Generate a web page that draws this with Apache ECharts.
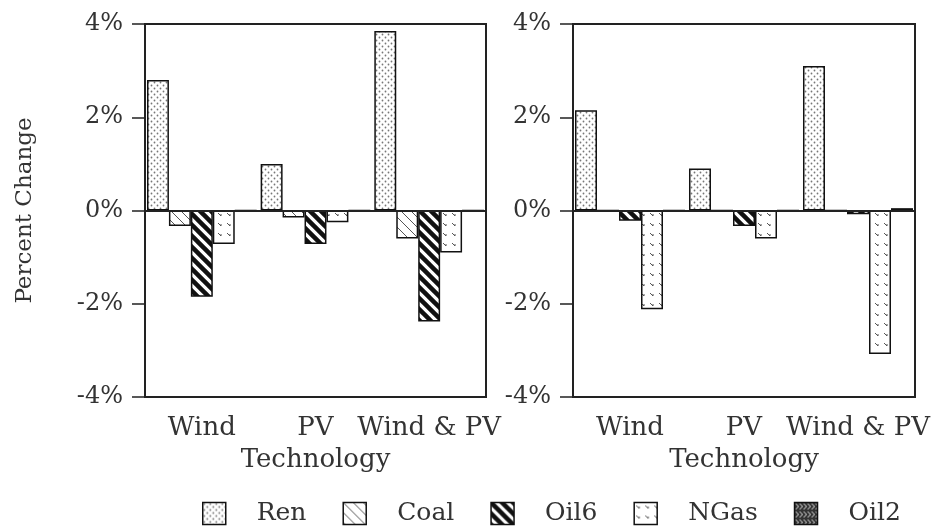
<!DOCTYPE html>
<html>
<head>
<meta charset="utf-8">
<script src="https://cdn.jsdelivr.net/npm/echarts@6/dist/echarts.min.js"></script>
<style>html,body{margin:0;padding:0;background:#fff}#c{width:946px;height:529px}</style>
</head>
<body>
<div id="c"></div>
<script>
// ---- data ----
var categories = ['Wind', 'PV', 'Wind & PV'];
var seriesNames = ['Ren', 'Coal', 'Oil6', 'NGas', 'Oil2'];
var yTicks = [-4, -2, 0, 2, 4];
// left panel (percent change)
var leftRen  = [2.8, 1.0, 3.85];
var leftCoal = [-0.33, -0.15, -0.6];
var leftOil6 = [-1.85, -0.72, -2.38];
var leftNGas = [-0.72, -0.25, -0.9];
var leftOil2 = [0, 0, 0];
// right panel
var rightRen  = [2.15, 0.9, 3.1];
var rightCoal = [0, 0, 0];
var rightOil6 = [-0.22, -0.33, -0.08];
var rightNGas = [-2.12, -0.6, -3.08];
var rightOil2 = [0, 0, 0.05];

// ---- patterns ----
function mk(w, h, draw) {
  var c = document.createElement('canvas'); c.width = w; c.height = h;
  var g = c.getContext('2d'); draw(g, w, h); return c;
}
var patRen = mk(6, 6, function (g) {
  g.fillStyle = '#fff'; g.fillRect(0, 0, 6, 6);
  g.fillStyle = '#777';
  g.beginPath(); g.arc(1.5, 1.5, 0.9, 0, 7); g.fill();
  g.beginPath(); g.arc(4.5, 4.5, 0.9, 0, 7); g.fill();
});
var patCoal = mk(10, 10, function (g) {
  g.fillStyle = '#fff'; g.fillRect(0, 0, 10, 10);
  g.strokeStyle = '#555'; g.lineWidth = 1;
  g.beginPath(); g.moveTo(-1, -1); g.lineTo(11, 11); g.stroke();
});
var patOil6 = mk(11, 11, function (g) {
  g.fillStyle = '#fff'; g.fillRect(0, 0, 11, 11);
  g.strokeStyle = '#111'; g.lineWidth = 4.5;
  g.beginPath(); g.moveTo(-2, -2); g.lineTo(13, 13); g.stroke();
  g.beginPath(); g.moveTo(-13, -2); g.lineTo(2, 13); g.stroke();
  g.beginPath(); g.moveTo(9, -2); g.lineTo(24, 13); g.stroke();
});
var patNGas = mk(9, 10, function (g) {
  g.fillStyle = '#fff'; g.fillRect(0, 0, 9, 10);
  g.strokeStyle = '#555'; g.lineWidth = 1;
  g.beginPath(); g.moveTo(2, 3); g.lineTo(5, 6); g.lineTo(5, 4); g.stroke();
});
var patOil2 = mk(8, 8, function (g) {
  g.fillStyle = '#333'; g.fillRect(0, 0, 8, 8);
  g.strokeStyle = '#ddd'; g.lineWidth = 1;
  g.beginPath(); g.moveTo(1, 1); g.lineTo(4, 4); g.lineTo(1, 7); g.stroke();
  g.beginPath(); g.moveTo(5, 1); g.lineTo(8, 4); g.lineTo(5, 7); g.stroke();
});
var patterns = [patRen, patCoal, patOil6, patNGas, patOil2];

var FONT = 'DejaVu Serif';
var TXT = '#333';
var AX = '#222';

function xAx(gi) {
  return {
    type: 'category', gridIndex: gi, data: categories,
    axisLine: { onZero: false, lineStyle: { color: AX, width: 2 } },
    axisTick: { alignWithLabel: true, length: 8, lineStyle: { color: AX, width: 1.5 } },
    axisLabel: { interval: 0, color: TXT, fontFamily: FONT, fontSize: 26, margin: 18 },
    name: 'Technology', nameLocation: 'middle', nameGap: 50,
    nameTextStyle: { color: TXT, fontFamily: FONT, fontSize: 26 }
  };
}
function yAx(gi, withName) {
  var o = {
    type: 'value', gridIndex: gi, min: yTicks[0], max: yTicks[yTicks.length - 1], interval: 2,
    axisLine: { show: true, lineStyle: { color: AX, width: 2 } },
    axisTick: { show: true, length: 13, lineStyle: { color: AX, width: 1.5 } },
    splitLine: { show: false },
    axisLabel: { color: TXT, fontFamily: FONT, fontSize: 24, margin: 22, formatter: '{value}%' }
  };
  if (withName) {
    o.name = 'Percent Change'; o.nameLocation = 'middle'; o.nameGap = 108;
    o.nameTextStyle = { color: TXT, fontFamily: FONT, fontSize: 23 };
  }
  return o;
}

function bars(gi, arrays) {
  return arrays.map(function (arr, i) {
    var s = {
      name: seriesNames[i], type: 'bar', xAxisIndex: gi, yAxisIndex: gi, data: arr,
      barGap: '0%', barCategoryGap: '3.5%',
      itemStyle: { color: { image: patterns[i], repeat: 'repeat' }, borderColor: '#111', borderWidth: 1.5 }
    };
    if (i === 0) {
      s.markLine = {
        symbol: 'none', silent: true, label: { show: false },
        lineStyle: { color: AX, width: 2, type: 'solid' },
        data: [{ yAxis: 0 }]
      };
    }
    return s;
  });
}

var chart = echarts.init(document.getElementById('c'), null, { renderer: 'canvas' });
chart.setOption({
  animation: false,
  backgroundColor: '#fff',
  grid: [
    { left: 145, right: 460, top: 24, bottom: 132, show: true, borderColor: AX, borderWidth: 2 },
    { left: 573, right: 31, top: 24, bottom: 132, show: true, borderColor: AX, borderWidth: 2 }
  ],
  xAxis: [xAx(0), xAx(1)],
  yAxis: [yAx(0, true), yAx(1, false)],
  legend: {
    data: seriesNames, left: 197, bottom: -2, icon: 'rect',
    itemWidth: 23, itemHeight: 22, itemGap: 36,
    itemStyle: { borderColor: '#111', borderWidth: 1.5 },
    textStyle: { color: TXT, fontFamily: FONT, fontSize: 25, padding: [0, 0, 0, 26] }
  },
  series: bars(0, [leftRen, leftCoal, leftOil6, leftNGas, leftOil2])
    .concat(bars(1, [rightRen, rightCoal, rightOil6, rightNGas, rightOil2]))
});
</script>
</body>
</html>
